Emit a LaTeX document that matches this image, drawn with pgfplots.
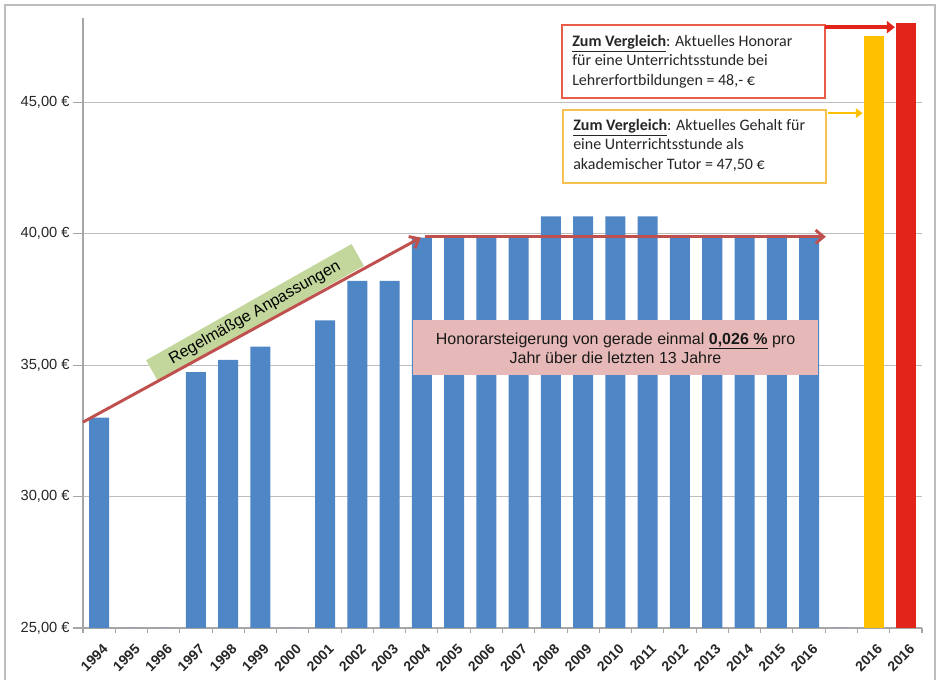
\documentclass[border=0pt]{standalone}
\usepackage{fontspec}
\setmainfont{Liberation Sans}
\newfontfamily\calibri{Carlito}
\usepackage{pgfplots}
\usepackage{pgfplotstable}
\pgfplotsset{compat=1.18}
\usetikzlibrary{arrows.meta}

\definecolor{barblue}{HTML}{4F86C6}
\definecolor{baryellow}{HTML}{FFC000}
\definecolor{barred}{HTML}{E3241B}
\definecolor{arrowred}{HTML}{C0504D}
\definecolor{boxred}{HTML}{E95C48}
\definecolor{boxyellow}{HTML}{F8C050}
\definecolor{pinkfill}{HTML}{E6B9B8}
\definecolor{greenfill}{HTML}{C3D69B}
\definecolor{gridgray}{HTML}{BDBDBD}
\definecolor{axisgray}{HTML}{A6A6A6}

% Hourly fee per year (slot index, euro); years without data are 0
\pgfplotstableread{
x  fee
0  33.00
1  0
2  0
3  34.73
4  35.20
5  35.70
6  0
7  36.70
8  38.20
9  38.20
10 39.85
11 39.85
12 39.85
13 39.85
14 40.65
15 40.65
16 40.65
17 40.65
18 39.95
19 39.95
20 39.95
21 39.95
22 39.95
23 0
}\feetable

\pgfplotstableread{
x  fee
24 47.50
}\tutortable

\pgfplotstableread{
x  fee
25 48.00
}\trainingtable

\begin{document}
\begin{tikzpicture}
\useasboundingbox (0,0) rectangle (705pt,510pt);
\begin{axis}[
  at={(62.25pt,39pt)}, anchor=south west,
  scale only axis, width=629.25pt, height=457.5pt,
  xmin=-0.5, xmax=25.5, ymin=25, ymax=48.2,
  ybar, bar width=0.62, bar shift=0pt,
  axis x line*=bottom, axis y line*=left,
  axis line style={axisgray, line width=0.9pt, -},
  ymajorgrids, grid style={gridgray, line width=0.8pt},
  ytick={25,30,35,40,45},
  yticklabels={{25,00 €},{30,00 €},{35,00 €},{40,00 €},{45,00 €}},
  yticklabel style={font=\fontsize{11}{13}\selectfont, text=black!85, xshift=1pt},
  xtick={0,...,25},
  xticklabels={1994,1995,1996,1997,1998,1999,2000,2001,2002,2003,2004,2005,2006,2007,2008,2009,2010,2011,2012,2013,2014,2015,2016,{},2016,2016},
  xticklabel style={rotate=45, anchor=east, font=\bfseries\fontsize{10.5}{12}\selectfont, text=black!85, xshift=2pt, yshift=-8pt},
  minor xtick={-0.5,0.5,...,25.5},
  tick align=outside,
  major tick length=7.5pt,
  minor tick length=3.5pt,
  major x tick style={draw=none},
  minor x tick style={axisgray, line width=0.8pt},
  y tick style={axisgray, line width=0.8pt},
]
\addplot[fill=barblue, draw=none] table[x=x, y=fee] {\feetable};
\addplot[fill=baryellow, draw=none] table[x=x, y=fee] {\tutortable};
\addplot[fill=barred, draw=none] table[x=x, y=fee] {\trainingtable};

\coordinate (up0) at (axis cs:-0.5,32.83);
\coordinate (up1) at (axis cs:9.97,39.85);
\coordinate (flat0) at (axis cs:10.1,39.88);
\coordinate (flat1) at (axis cs:22.52,39.88);
\coordinate (red0) at (axis cs:22.48,47.85);
\coordinate (red1) at (axis cs:24.66,47.85);
\coordinate (yel0) at (axis cs:22.58,44.58);
\coordinate (yel1) at (axis cs:23.66,44.58);
\end{axis}

% annotations, placed in pixel-like units from the top left corner
\begin{scope}[x=0.75pt, y=-0.75pt, yshift=510pt]
  % outer frame
  \draw[gridgray, line width=0.9pt] (5,690) -- (5,5) -- (935,5) -- (935,690);

  % green label along the rising arrow
  \node[fill=greenfill, rotate=29.5, minimum width=236*0.75pt, minimum height=25*0.75pt,
        inner sep=0pt, font=\fontsize{12}{14}\selectfont]
        at (255,313) {Regelmäßge Anpassungen};

  % pink remark
  \fill[pinkfill] (413,320) rectangle (818,375);
  \node[align=center, font=\fontsize{12}{14.2}\selectfont, text=black!90] at (615.5,348)
    {Honorarsteigerung von gerade einmal \underline{\textbf{0,026 \%}} pro\\Jahr über die letzten 13 Jahre};

  % comparison boxes
  \draw[boxred, line width=0.9pt, fill=white] (562,25) rectangle (825,98);
  \node[anchor=north west, align=left, inner sep=0pt, font=\calibri\fontsize{12}{14.6}\selectfont, text=black!85]
    at (572,35)
    {\underline{\textbf{Zum Vergleich}}: Aktuelles Honorar\\für eine Unterrichtsstunde bei\\Lehrerfortbildungen = 48,- €};
  \draw[boxyellow, line width=0.9pt, fill=white] (563,110) rectangle (826,183);
  \node[anchor=north west, align=left, inner sep=0pt, font=\calibri\fontsize{12}{14.6}\selectfont, text=black!85]
    at (573,119)
    {\underline{\textbf{Zum Vergleich}}: Aktuelles Gehalt für\\eine Unterrichtsstunde als\\akademischer Tutor = 47,50 €};
\end{scope}

% arrows
\draw[arrowred, line width=2.2pt, -{Straight Barb[length=6pt, width=10pt]}] (up0) -- (up1);
\draw[arrowred, line width=2.2pt, -{Straight Barb[length=6pt, width=10pt]}] (flat0) -- (flat1);
\draw[barred, line width=2.6pt, -{Triangle[length=6pt, width=9pt]}] (red0) -- (red1);
\draw[baryellow, line width=2pt, -{Triangle[length=5pt, width=7pt]}] (yel0) -- (yel1);
\end{tikzpicture}
\end{document}
